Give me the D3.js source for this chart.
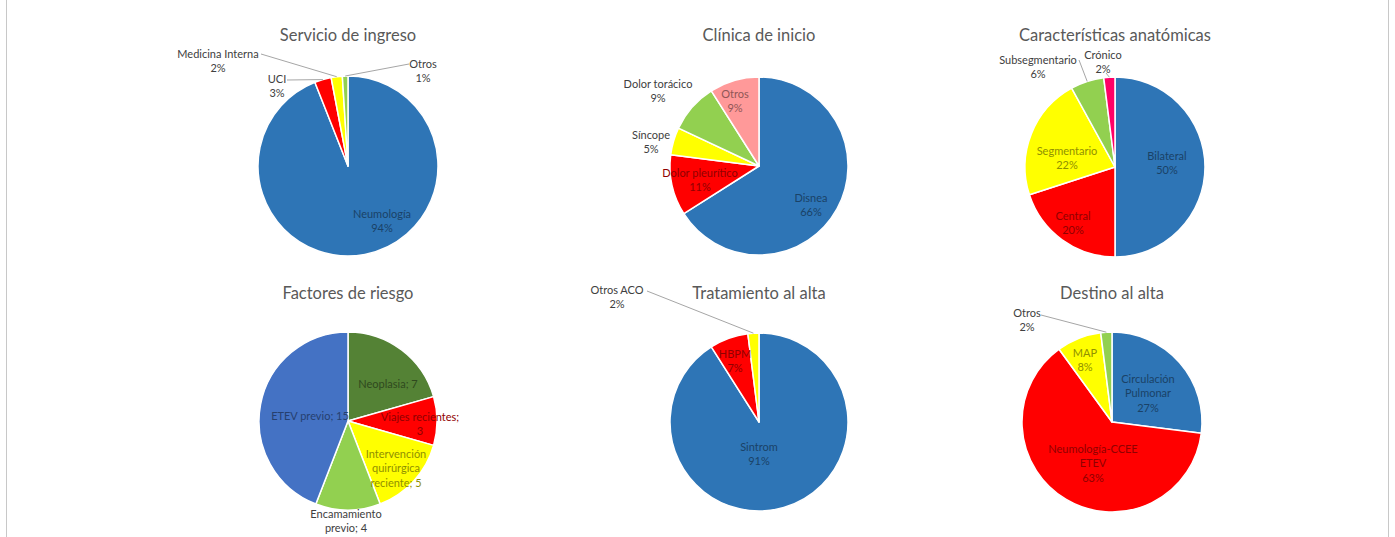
<!DOCTYPE html>
<html>
<head>
<meta charset="utf-8">
<script src="https://cdn.jsdelivr.net/npm/d3@7"></script>
<style>
  html, body { margin: 0; padding: 0; background: #fff; }
  svg { display: block; }
  text { font-family: Lato, "Open Sans", sans-serif; }
</style>
</head>
<body>
<svg id="fig" width="1395" height="537"></svg>
<script>
// ---- Data -------------------------------------------------------------
const servicioCats = ["Neumología", "UCI", "Medicina Interna", "Otros"];
const servicioVals = [94, 3, 2, 1];
const servicioColors = ["#2E75B6", "#FF0000", "#FFFF00", "#92D050"];

const clinicaCats = ["Disnea", "Dolor pleurítico", "Síncope", "Dolor torácico", "Otros"];
const clinicaVals = [66, 11, 5, 9, 9];
const clinicaColors = ["#2E75B6", "#FF0000", "#FFFF00", "#92D050", "#FF9999"];

const anatomiaCats = ["Bilateral", "Central", "Segmentario", "Subsegmentario", "Crónico"];
const anatomiaVals = [50, 20, 22, 6, 2];
const anatomiaColors = ["#2E75B6", "#FF0000", "#FFFF00", "#92D050", "#FF0066"];

const factoresCats = ["Neoplasia", "Viajes recientes", "Intervención\nquirúrgica\nreciente", "Encamamiento\nprevio", "ETEV previo"];
const factoresVals = [7, 3, 5, 4, 15];
const factoresColors = ["#548235", "#FF0000", "#FFFF00", "#92D050", "#4472C4"];

const tratamientoCats = ["Sintrom", "HBPM", "Otros ACO"];
const tratamientoVals = [91, 7, 2];
const tratamientoColors = ["#2E75B6", "#FF0000", "#FFFF00"];

const destinoCats = ["Circulación\nPulmonar", "Neumología-CCEE\nETEV", "MAP", "Otros"];
const destinoVals = [27, 63, 8, 2];
const destinoColors = ["#2E75B6", "#FF0000", "#FFFF00", "#92D050"];

// ---- Layout -----------------------------------------------------------
// label: [dx, dy] of first text line relative to pie centre;
// out: drawn outside with a leader from [lx, ly] to the slice edge.
const charts = [
  { title: "Servicio de ingreso", cats: servicioCats, vals: servicioVals, colors: servicioColors,
    fmt: "pct", cx: 348, cy: 166, r: 90, titleY: 35,
    labels: [
      { dx: 34, dy: 47 },
      { dx: -71, dy: -88, out: true, lx: -61, ly: -86 },
      { dx: -130, dy: -113, out: true, lx: -87, ly: -112 },
      { dx: 75, dy: -103, out: true, lx: 61, ly: -102 }
    ] },
  { title: "Clínica de inicio", cats: clinicaCats, vals: clinicaVals, colors: clinicaColors,
    fmt: "pct", cx: 759, cy: 166, r: 89, titleY: 35,
    labels: [
      { dx: 52, dy: 31 },
      { dx: -59, dy: 6 },
      { dx: -108, dy: -32, out: true },
      { dx: -101, dy: -83, out: true },
      { dx: -24, dy: -73 }
    ] },
  { title: "Características anatómicas", cats: anatomiaCats, vals: anatomiaVals, colors: anatomiaColors,
    fmt: "pct", cx: 1115, cy: 167, r: 90, titleY: 35,
    labels: [
      { dx: 52, dy: -12 },
      { dx: -42, dy: 48 },
      { dx: -48, dy: -17 },
      { dx: -77, dy: -108, out: true, lx: -36, ly: -107 },
      { dx: -12, dy: -113, out: true, lx: -9, ly: -94 }
    ] },
  { title: "Factores de riesgo", cats: factoresCats, vals: factoresVals, colors: factoresColors,
    fmt: "count", cx: 348, cy: 421, r: 89, titleY: 293,
    labels: [
      { dx: 40, dy: -38 },
      { dx: 72, dy: -5, breakSemi: true },
      { dx: 48, dy: 32 },
      { dx: -2, dy: 92, out: true },
      { dx: -38, dy: -6 }
    ] },
  { title: "Tratamiento al alta", cats: tratamientoCats, vals: tratamientoVals, colors: tratamientoColors,
    fmt: "pct", cx: 759, cy: 422, r: 89, titleY: 293,
    labels: [
      { dx: 0, dy: 24 },
      { dx: -24, dy: -69 },
      { dx: -142, dy: -133, out: true, lx: -112, ly: -131 }
    ] },
  { title: "Destino al alta", cats: destinoCats, vals: destinoVals, colors: destinoColors,
    fmt: "pct", cx: 1112, cy: 422, r: 90, titleY: 293,
    labels: [
      { dx: 36, dy: -44 },
      { dx: -19, dy: 26 },
      { dx: -27, dy: -70 },
      { dx: -85, dy: -110, out: true, lx: -71, ly: -107 }
    ] }
];

const svg = d3.select("#fig");

// outer frame of the figure
svg.append("rect")
  .attr("x", 6.5).attr("y", -1).attr("width", 1382).attr("height", 540)
  .attr("fill", "none").attr("stroke", "#c8c8c8").attr("stroke-width", 1);

const pie = d3.pie().sort(null).value(d => d.v);

function labelLines(chart, d, cfg) {
  if (chart.fmt === "pct") {
    return d.cat.split("\n").concat(d.v + "%");
  }
  let t = d.cat + "; " + d.v;
  if (cfg.breakSemi) t = t.replace("; ", ";\n");
  return t.split("\n");
}

charts.forEach(chart => {
  const rows = chart.cats.map((c, i) => ({ cat: c, v: chart.vals[i], color: chart.colors[i] }));
  const arcs = pie(rows);
  const arc = d3.arc().innerRadius(0).outerRadius(chart.r);
  const g = svg.append("g").attr("transform", `translate(${chart.cx},${chart.cy})`);

  g.selectAll("path.slice").data(arcs).join("path")
    .attr("class", "slice")
    .attr("d", arc)
    .attr("fill", d => d.data.color)
    .attr("stroke", "#fff")
    .attr("stroke-width", 1.5)
    .attr("stroke-linejoin", "round");

  svg.append("text")
    .attr("x", chart.cx).attr("y", chart.titleY)
    .attr("text-anchor", "middle").attr("dominant-baseline", "central")
    .attr("font-size", 16.5).attr("fill", "#595959")
    .text(chart.title);

  arcs.forEach((a, i) => {
    const cfg = chart.labels[i];
    if (cfg.out && cfg.lx !== undefined) {
      const mid = (a.startAngle + a.endAngle) / 2;
      g.append("line")
        .attr("x1", cfg.lx).attr("y1", cfg.ly)
        .attr("x2", chart.r * Math.sin(mid)).attr("y2", -chart.r * Math.cos(mid))
        .attr("stroke", "#a6a6a6").attr("stroke-width", 1);
    }
    const fill = cfg.out ? "#404040" : d3.color(a.data.color).darker(1.6).formatHex();
    const t = g.append("text")
      .attr("text-anchor", "middle")
      .attr("font-size", 11)
      .attr("fill", fill);
    labelLines(chart, a.data, cfg).forEach((ln, k) => {
      t.append("tspan")
        .attr("x", cfg.dx)
        .attr("y", cfg.dy + k * 14.5)
        .attr("dominant-baseline", "central")
        .text(ln);
    });
  });
});
</script>
</body>
</html>
